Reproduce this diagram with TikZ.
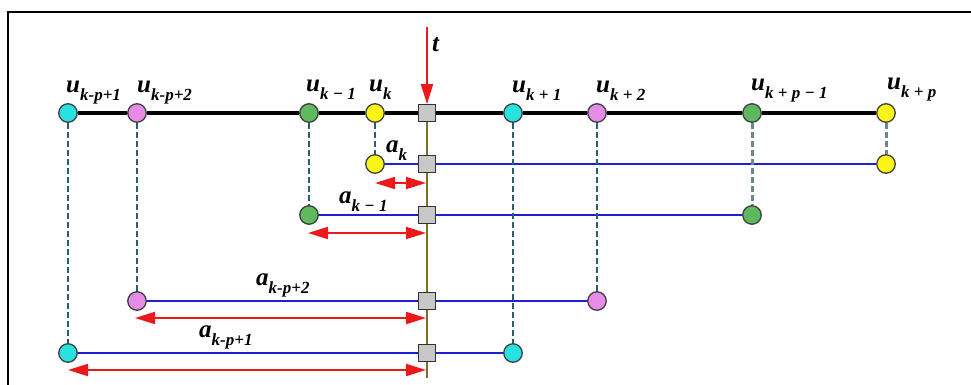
\documentclass[tikz,border=0pt]{standalone}
\usepackage{fontspec}
\setmainfont{Liberation Serif}
\usetikzlibrary{arrows.meta}
\definecolor{ccyan}{RGB}{40,225,225}
\definecolor{cpink}{RGB}{230,140,230}
\definecolor{cgreen}{RGB}{95,185,95}
\definecolor{cyel}{RGB}{250,245,20}
\definecolor{cgray}{RGB}{200,200,200}
\definecolor{cblue}{RGB}{30,30,210}
\definecolor{cred}{RGB}{235,25,25}
\definecolor{colive}{RGB}{125,110,40}
\definecolor{cdash}{RGB}{40,95,105}
\definecolor{cdashgray}{RGB}{110,135,140}
\newcommand{\sublab}[2]{{\fontsize{25}{25}\selectfont #1}\raisebox{-8pt}{\fontsize{17}{17}\selectfont #2}}
\tikzset{
  dot/.style={circle,draw=black!75,line width=1.3pt,minimum size=18.5pt,inner sep=0pt},
  sqr/.style={rectangle,draw=black!80,fill=cgray,line width=1.3pt,minimum size=16.5pt,inner sep=0pt},
  lbl/.style={anchor=base west,inner sep=0pt,font=\bfseries\itshape},
  mainln/.style={line width=4.5pt,black},
  blueln/.style={line width=2pt,cblue},
  dashln/.style={line width=1.5pt,cdash,dash pattern=on 6pt off 3pt},
  dashthick/.style={line width=3pt,cdashgray,dash pattern=on 6pt off 3pt},
  oliveln/.style={line width=1.8pt,colive},
  redarr/.style={line width=2pt,cred,{Triangle[length=20pt,width=12pt]}-{Triangle[length=20pt,width=12pt]}},
  downarr/.style={line width=2pt,cred,-{Triangle[length=20pt,width=12pt]}}
}
\begin{document}
\begin{tikzpicture}[x=1pt,y=-1pt]
\useasboundingbox (0,0) rectangle (971,385);
\draw[line width=2.5pt] (8,385) -- (8,12) -- (971,12);
% top row
\node[dot,fill=ccyan] (t1) at (68,113) {};
\node[dot,fill=cpink] (t2) at (137,113) {};
\node[dot,fill=cgreen] (t3) at (309,113) {};
\node[dot,fill=cyel] (t4) at (375,113) {};
\node[sqr] (s0) at (427,113) {};
\node[dot,fill=ccyan] (t5) at (513,113) {};
\node[dot,fill=cpink] (t6) at (597,113) {};
\node[dot,fill=cgreen] (t7) at (752,113) {};
\node[dot,fill=cyel] (t8) at (886,113) {};
% rows
\node[dot,fill=cyel] (r1a) at (375,164) {};
\node[sqr] (s1) at (427,164) {};
\node[dot,fill=cyel] (r1b) at (886,164) {};
\node[dot,fill=cgreen] (r2a) at (309,215) {};
\node[sqr] (s2) at (427,215) {};
\node[dot,fill=cgreen] (r2b) at (752,215) {};
\node[dot,fill=cpink] (r3a) at (137,301) {};
\node[sqr] (s3) at (427,301) {};
\node[dot,fill=cpink] (r3b) at (597,301) {};
\node[dot,fill=ccyan] (r4a) at (68,353) {};
\node[sqr] (s4) at (427,353) {};
\node[dot,fill=ccyan] (r4b) at (513,353) {};
\coordinate (vend) at (427,378);
\coordinate (ttop) at (427,27);
% lines
\draw[mainln] (t1) -- (t2) -- (t3) -- (t4) -- (s0) -- (t5) -- (t6) -- (t7) -- (t8);
\draw[oliveln] (s0) -- (s1) -- (s2) -- (s3) -- (s4) -- (vend);
\draw[blueln] (r1a) -- (s1) -- (r1b);
\draw[blueln] (r2a) -- (s2) -- (r2b);
\draw[blueln] (r3a) -- (s3) -- (r3b);
\draw[blueln] (r4a) -- (s4) -- (r4b);
\draw[dashln] (t1) -- (r4a);
\draw[dashln] (t2) -- (r3a);
\draw[dashln] (t3) -- (r2a);
\draw[dashln] (t4) -- (r1a);
\draw[dashln] (t5) -- (r4b);
\draw[dashln] (t6) -- (r3b);
\draw[dashthick] (t7) -- (r2b);
\draw[dashthick] (t8) -- (r1b);
\draw[downarr] (ttop) -- (s0.north);
% red double arrows
\coordinate (d1a) at (375,183); \coordinate (d1b) at (426,183);
\coordinate (d2a) at (308,233); \coordinate (d2b) at (426,233);
\coordinate (d3a) at (135,318); \coordinate (d3b) at (426,318);
\coordinate (d4a) at (68,370);  \coordinate (d4b) at (426,370);
\draw[redarr] (d1a) -- (d1b);
\draw[redarr] (d2a) -- (d2b);
\draw[redarr] (d3a) -- (d3b);
\draw[redarr] (d4a) -- (d4b);
% labels
\node[lbl] (lt) at (432,52) {\fontsize{25}{25}\selectfont t};
\node[lbl] (lu1) at (66,93) {\sublab{u}{k-p+1}};
\node[lbl] (lu2) at (137,93) {\sublab{u}{k-p+2}};
\node[lbl] (lu3) at (306,92) {\sublab{u}{k − 1}};
\node[lbl] (lu4) at (369,92) {\sublab{u}{k}};
\node[lbl] (lu5) at (512,93) {\sublab{u}{k + 1}};
\node[lbl] (lu6) at (596,93) {\sublab{u}{k + 2}};
\node[lbl] (lu7) at (751,91) {\sublab{u}{k + p − 1}};
\node[lbl] (lu8) at (887,90) {\sublab{u}{k + p}};
\node[lbl] (la1) at (386,152) {\sublab{a}{k}};
\node[lbl] (la2) at (339,203) {\sublab{a}{k − 1}};
\node[lbl] (la3) at (256,285) {\sublab{a}{k-p+2}};
\node[lbl] (la4) at (199,337) {\sublab{a}{k-p+1}};
\end{tikzpicture}
\end{document}
